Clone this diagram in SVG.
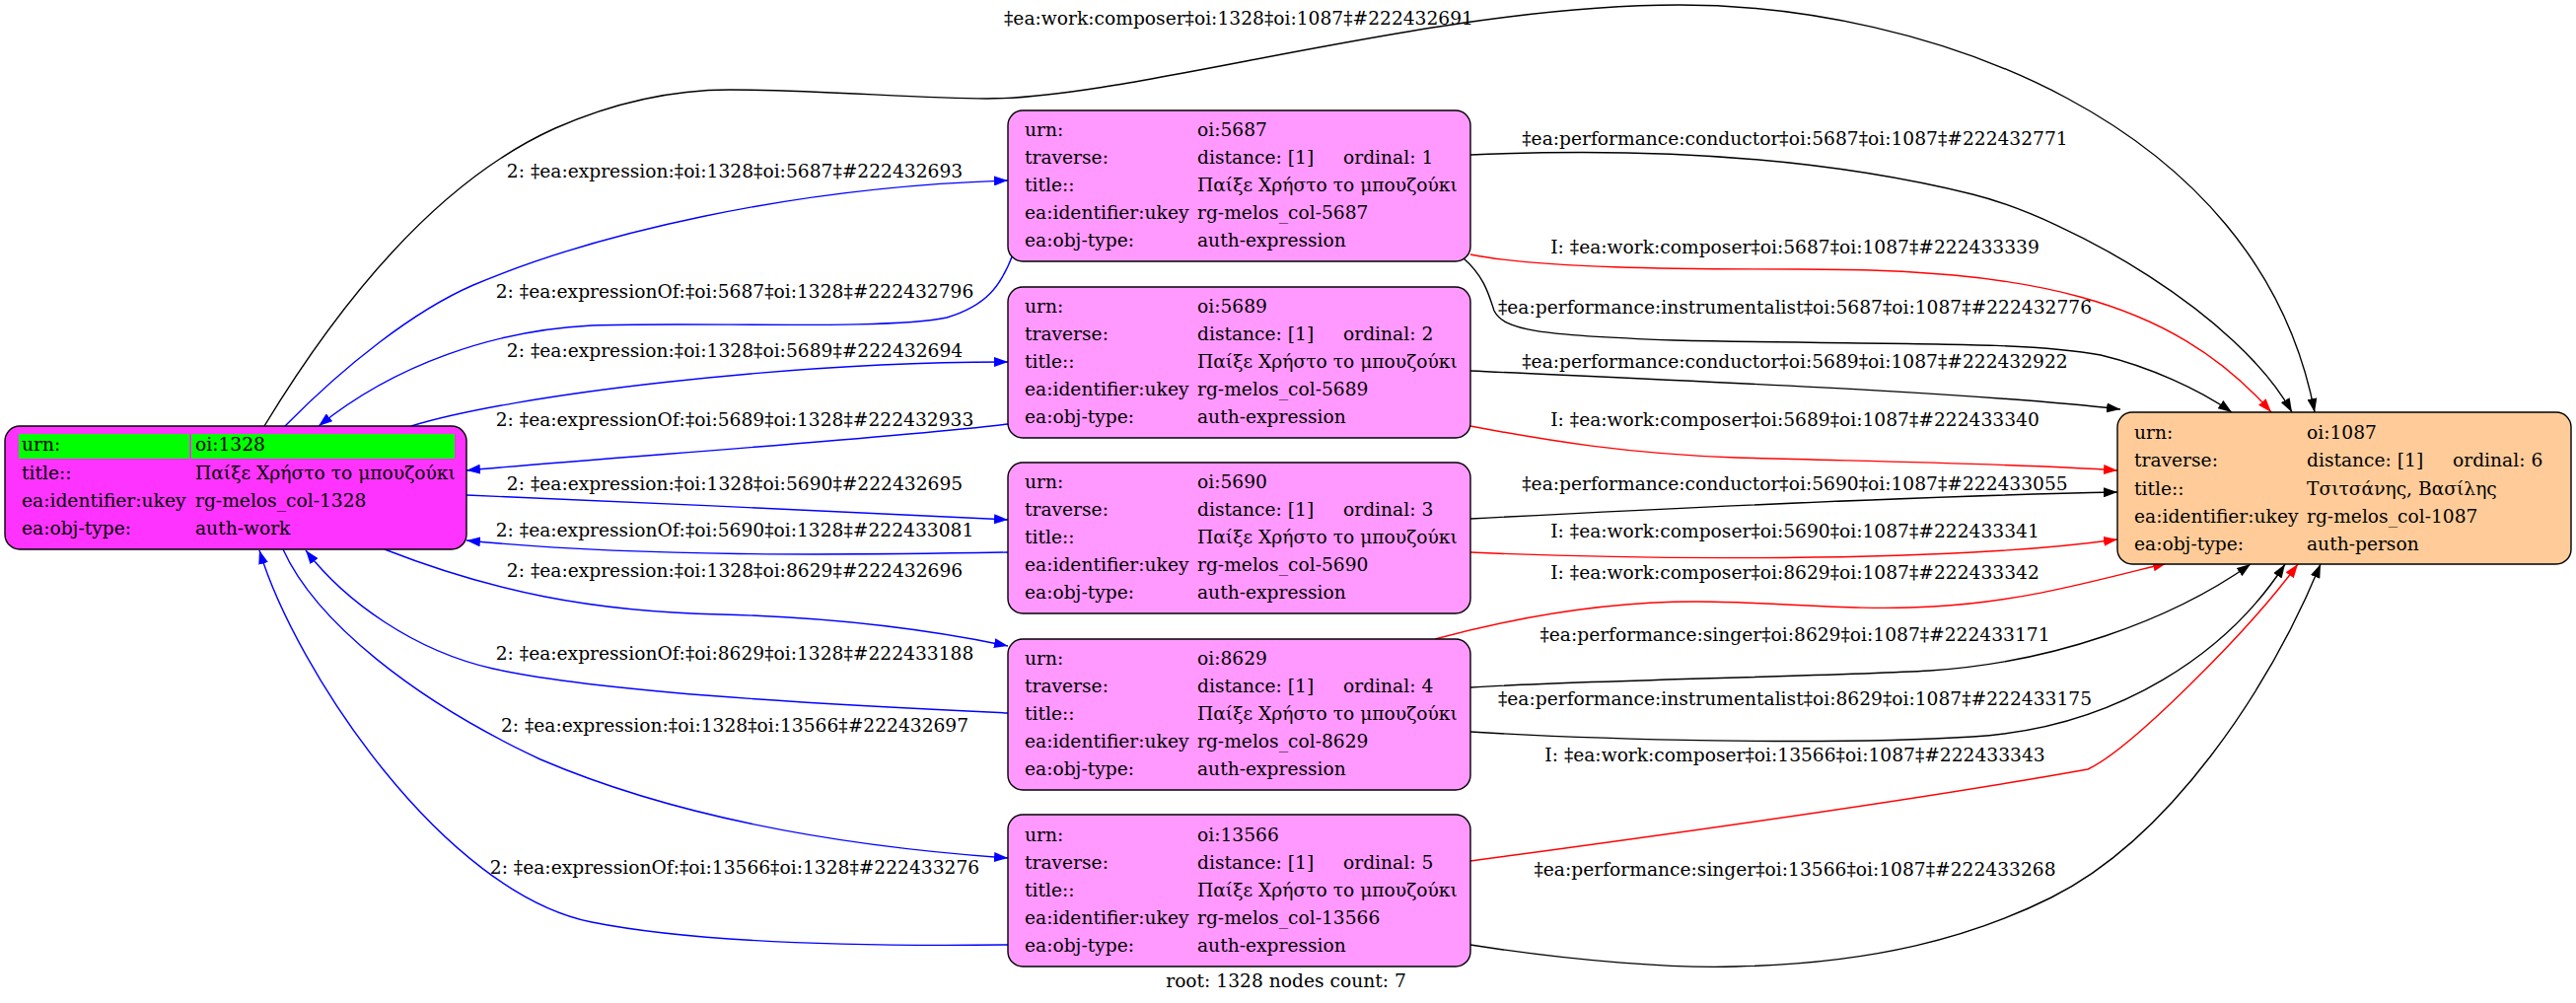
<svg xmlns="http://www.w3.org/2000/svg" width="2612" height="1017" viewBox="0 0 2612 1017">
<style>
text{font-family:"DejaVu Serif","Liberation Serif",serif;font-size:18.67px;fill:#000}
.lbl{text-anchor:middle}
.box{stroke:#000;stroke-width:1.4}
.expr{fill:#ff99ff}
.work{fill:#ff33ff}
.person{fill:#ffcc99}
.e{fill:none;stroke-width:1.4}
.k{stroke:#000}
.b{stroke:#0000ff}
.r{stroke:#ff0000}
</style>
<defs>
<marker id="ak" viewBox="0 0 14 10" refX="14" refY="5" markerWidth="14" markerHeight="10" markerUnits="userSpaceOnUse" orient="auto"><path d="M0,0 L14,5 L0,10 z" fill="#000"/></marker>
<marker id="ab" viewBox="0 0 14 10" refX="14" refY="5" markerWidth="14" markerHeight="10" markerUnits="userSpaceOnUse" orient="auto"><path d="M0,0 L14,5 L0,10 z" fill="#0000ff"/></marker>
<marker id="ar" viewBox="0 0 14 10" refX="14" refY="5" markerWidth="14" markerHeight="10" markerUnits="userSpaceOnUse" orient="auto"><path d="M0,0 L14,5 L0,10 z" fill="#ff0000"/></marker>
</defs>
<rect width="2612" height="1017" fill="#fff"/>

<g id="connectors">
<path class="e k" marker-end="url(#ak)" d="M268,432 C330,330 430,190 563,130 C620,105 680,91 740,91 C830,91 930,100 1000,100 C1150,100 1450,5 1703,5 C1950,5 2290,120 2347,418"/>
<text class="lbl" x="1256" y="25">‡ea:work:composer‡oi:1328‡oi:1087‡#222432691</text>

<path class="e b" marker-end="url(#ab)" d="M289,432 C350,370 420,315 480,289 C600,238 800,190 1022,183"/>
<text class="lbl" x="745" y="180">2: ‡ea:expression:‡oi:1328‡oi:5687‡#222432693</text>
<path class="e b" marker-end="url(#ab)" d="M1027,258 C1015,290 1000,310 960,322 C900,335 700,326 600,330 C500,335 400,370 323,432"/>
<text class="lbl" x="745" y="302">2: ‡ea:expressionOf:‡oi:5687‡oi:1328‡#222432796</text>
<path class="e b" marker-end="url(#ab)" d="M417,432 C520,400 800,367 1022,367"/>
<text class="lbl" x="745" y="362">2: ‡ea:expression:‡oi:1328‡oi:5689‡#222432694</text>
<path class="e b" marker-end="url(#ab)" d="M1022,430 C900,445 600,465 473,477"/>
<text class="lbl" x="745" y="432">2: ‡ea:expressionOf:‡oi:5689‡oi:1328‡#222432933</text>
<path class="e b" marker-end="url(#ab)" d="M473,502 C650,510 850,518 1022,527"/>
<text class="lbl" x="745" y="497">2: ‡ea:expression:‡oi:1328‡oi:5690‡#222432695</text>
<path class="e b" marker-end="url(#ab)" d="M1022,560 C850,563 650,565 473,548"/>
<text class="lbl" x="745" y="544">2: ‡ea:expressionOf:‡oi:5690‡oi:1328‡#222433081</text>
<path class="e b" marker-end="url(#ab)" d="M390,557 C500,600 600,620 730,623 C850,626 950,640 1022,655"/>
<text class="lbl" x="745" y="585">2: ‡ea:expression:‡oi:1328‡oi:8629‡#222432696</text>
<path class="e b" marker-end="url(#ab)" d="M1022,723 C800,713 600,700 500,678 C420,660 350,610 310,558"/>
<text class="lbl" x="745" y="669">2: ‡ea:expressionOf:‡oi:8629‡oi:1328‡#222433188</text>
<path class="e b" marker-end="url(#ab)" d="M287,557 C320,630 420,710 548,770 C700,835 880,860 1022,870"/>
<text class="lbl" x="745" y="742">2: ‡ea:expression:‡oi:1328‡oi:13566‡#222432697</text>
<path class="e b" marker-end="url(#ab)" d="M1022,958 C850,960 700,955 600,935 C450,905 300,680 263,558"/>
<text class="lbl" x="745" y="886">2: ‡ea:expressionOf:‡oi:13566‡oi:1328‡#222433276</text>

<path class="e k" marker-end="url(#ak)" d="M1491,157 C1650,150 1830,155 2000,197 C2100,222 2270,320 2324,418"/>
<text class="lbl" x="1820" y="147">‡ea:performance:conductor‡oi:5687‡oi:1087‡#222432771</text>
<path class="e r" marker-end="url(#ar)" d="M1491,258 C1560,272 1700,273 1827,273 C2050,273 2200,300 2303,418"/>
<text class="lbl" x="1820" y="257">I: ‡ea:work:composer‡oi:5687‡oi:1087‡#222433339</text>
<path class="e k" marker-end="url(#ak)" d="M1484,262 C1505,280 1510,300 1515,315 C1525,335 1560,340 1697,345 C1900,350 2050,345 2130,360 C2180,372 2230,395 2263,418"/>
<text class="lbl" x="1820" y="318">‡ea:performance:instrumentalist‡oi:5687‡oi:1087‡#222432776</text>
<path class="e k" marker-end="url(#ak)" d="M1491,376 C1750,388 2000,398 2150,415"/>
<text class="lbl" x="1820" y="373">‡ea:performance:conductor‡oi:5689‡oi:1087‡#222432922</text>
<path class="e r" marker-end="url(#ar)" d="M1491,432 C1570,447 1650,460 1760,464 C1900,468 2050,470 2147,477"/>
<text class="lbl" x="1820" y="432">I: ‡ea:work:composer‡oi:5689‡oi:1087‡#222433340</text>
<path class="e k" marker-end="url(#ak)" d="M1491,526 C1700,515 1950,503 2147,499"/>
<text class="lbl" x="1820" y="497">‡ea:performance:conductor‡oi:5690‡oi:1087‡#222433055</text>
<path class="e r" marker-end="url(#ar)" d="M1491,560 C1650,567 1850,568 2000,560 C2060,557 2110,552 2147,547"/>
<text class="lbl" x="1820" y="545">I: ‡ea:work:composer‡oi:5690‡oi:1087‡#222433341</text>
<path class="e r" marker-end="url(#ar)" d="M1455,648 C1540,625 1630,610 1720,610 C1800,610 1880,620 1960,615 C2050,610 2120,590 2197,571"/>
<text class="lbl" x="1820" y="587">I: ‡ea:work:composer‡oi:8629‡oi:1087‡#222433342</text>
<path class="e k" marker-end="url(#ak)" d="M1491,697 C1600,690 1850,686 1957,680 C2080,672 2200,630 2282,572"/>
<text class="lbl" x="1820" y="650">‡ea:performance:singer‡oi:8629‡oi:1087‡#222433171</text>
<path class="e k" marker-end="url(#ak)" d="M1491,742 C1620,750 1850,756 2000,747 C2150,738 2260,660 2317,572"/>
<text class="lbl" x="1820" y="715">‡ea:performance:instrumentalist‡oi:8629‡oi:1087‡#222433175</text>
<path class="e r" marker-end="url(#ar)" d="M1491,873 C1700,845 1950,810 2117,780 C2160,760 2280,640 2330,572"/>
<text class="lbl" x="1820" y="772">I: ‡ea:work:composer‡oi:13566‡oi:1087‡#222433343</text>
<path class="e k" marker-end="url(#ak)" d="M1491,958 C1600,975 1700,982 1760,980 C1900,977 2000,950 2080,910 C2200,850 2300,700 2353,572"/>
<text class="lbl" x="1820" y="888">‡ea:performance:singer‡oi:13566‡oi:1087‡#222433268</text>
</g>

<g id="n1328">
<rect class="box work" x="5" y="432" width="468" height="125" rx="15"/>
<rect x="19" y="440" width="173" height="25" fill="#00ff00"/>
<rect x="194" y="440" width="267" height="25" fill="#00ff00"/>
<text x="22" y="457">urn:</text><text x="198" y="457">oi:1328</text>
<text x="22" y="486">title::</text><text x="198" y="486">Παίξε Χρήστο το μπουζούκι</text>
<text x="22" y="514">ea:identifier:ukey</text><text x="198" y="514">rg-melos_col-1328</text>
<text x="22" y="542">ea:obj-type:</text><text x="198" y="542">auth-work</text>
</g>

<g id="n5687">
<rect class="box expr" x="1022" y="112" width="469" height="153" rx="15"/>
<text x="1039" y="138">urn:</text><text x="1214" y="138">oi:5687</text>
<text x="1039" y="166">traverse:</text><text x="1214" y="166">distance: [1]</text><text x="1362" y="166">ordinal: 1</text>
<text x="1039" y="194">title::</text><text x="1214" y="194">Παίξε Χρήστο το μπουζούκι</text>
<text x="1039" y="222">ea:identifier:ukey</text><text x="1214" y="222">rg-melos_col-5687</text>
<text x="1039" y="250">ea:obj-type:</text><text x="1214" y="250">auth-expression</text>
</g>

<g id="n5689">
<rect class="box expr" x="1022" y="291" width="469" height="153" rx="15"/>
<text x="1039" y="317">urn:</text><text x="1214" y="317">oi:5689</text>
<text x="1039" y="345">traverse:</text><text x="1214" y="345">distance: [1]</text><text x="1362" y="345">ordinal: 2</text>
<text x="1039" y="373">title::</text><text x="1214" y="373">Παίξε Χρήστο το μπουζούκι</text>
<text x="1039" y="401">ea:identifier:ukey</text><text x="1214" y="401">rg-melos_col-5689</text>
<text x="1039" y="429">ea:obj-type:</text><text x="1214" y="429">auth-expression</text>
</g>

<g id="n5690">
<rect class="box expr" x="1022" y="469" width="469" height="153" rx="15"/>
<text x="1039" y="495">urn:</text><text x="1214" y="495">oi:5690</text>
<text x="1039" y="523">traverse:</text><text x="1214" y="523">distance: [1]</text><text x="1362" y="523">ordinal: 3</text>
<text x="1039" y="551">title::</text><text x="1214" y="551">Παίξε Χρήστο το μπουζούκι</text>
<text x="1039" y="579">ea:identifier:ukey</text><text x="1214" y="579">rg-melos_col-5690</text>
<text x="1039" y="607">ea:obj-type:</text><text x="1214" y="607">auth-expression</text>
</g>

<g id="n8629">
<rect class="box expr" x="1022" y="648" width="469" height="153" rx="15"/>
<text x="1039" y="674">urn:</text><text x="1214" y="674">oi:8629</text>
<text x="1039" y="702">traverse:</text><text x="1214" y="702">distance: [1]</text><text x="1362" y="702">ordinal: 4</text>
<text x="1039" y="730">title::</text><text x="1214" y="730">Παίξε Χρήστο το μπουζούκι</text>
<text x="1039" y="758">ea:identifier:ukey</text><text x="1214" y="758">rg-melos_col-8629</text>
<text x="1039" y="786">ea:obj-type:</text><text x="1214" y="786">auth-expression</text>
</g>

<g id="n13566">
<rect class="box expr" x="1022" y="826" width="469" height="154" rx="15"/>
<text x="1039" y="853">urn:</text><text x="1214" y="853">oi:13566</text>
<text x="1039" y="881">traverse:</text><text x="1214" y="881">distance: [1]</text><text x="1362" y="881">ordinal: 5</text>
<text x="1039" y="909">title::</text><text x="1214" y="909">Παίξε Χρήστο το μπουζούκι</text>
<text x="1039" y="937">ea:identifier:ukey</text><text x="1214" y="937">rg-melos_col-13566</text>
<text x="1039" y="965">ea:obj-type:</text><text x="1214" y="965">auth-expression</text>
</g>

<g id="n1087">
<rect class="box person" x="2147" y="418" width="460" height="154" rx="15"/>
<text x="2164" y="445">urn:</text><text x="2339" y="445">oi:1087</text>
<text x="2164" y="473">traverse:</text><text x="2339" y="473">distance: [1]</text><text x="2487" y="473">ordinal: 6</text>
<text x="2164" y="502">title::</text><text x="2339" y="502">Τσιτσάνης, Βασίλης</text>
<text x="2164" y="530">ea:identifier:ukey</text><text x="2339" y="530">rg-melos_col-1087</text>
<text x="2164" y="558">ea:obj-type:</text><text x="2339" y="558">auth-person</text>
</g>

<text class="lbl" x="1304" y="1001">root: 1328 nodes count: 7</text>
</svg>
